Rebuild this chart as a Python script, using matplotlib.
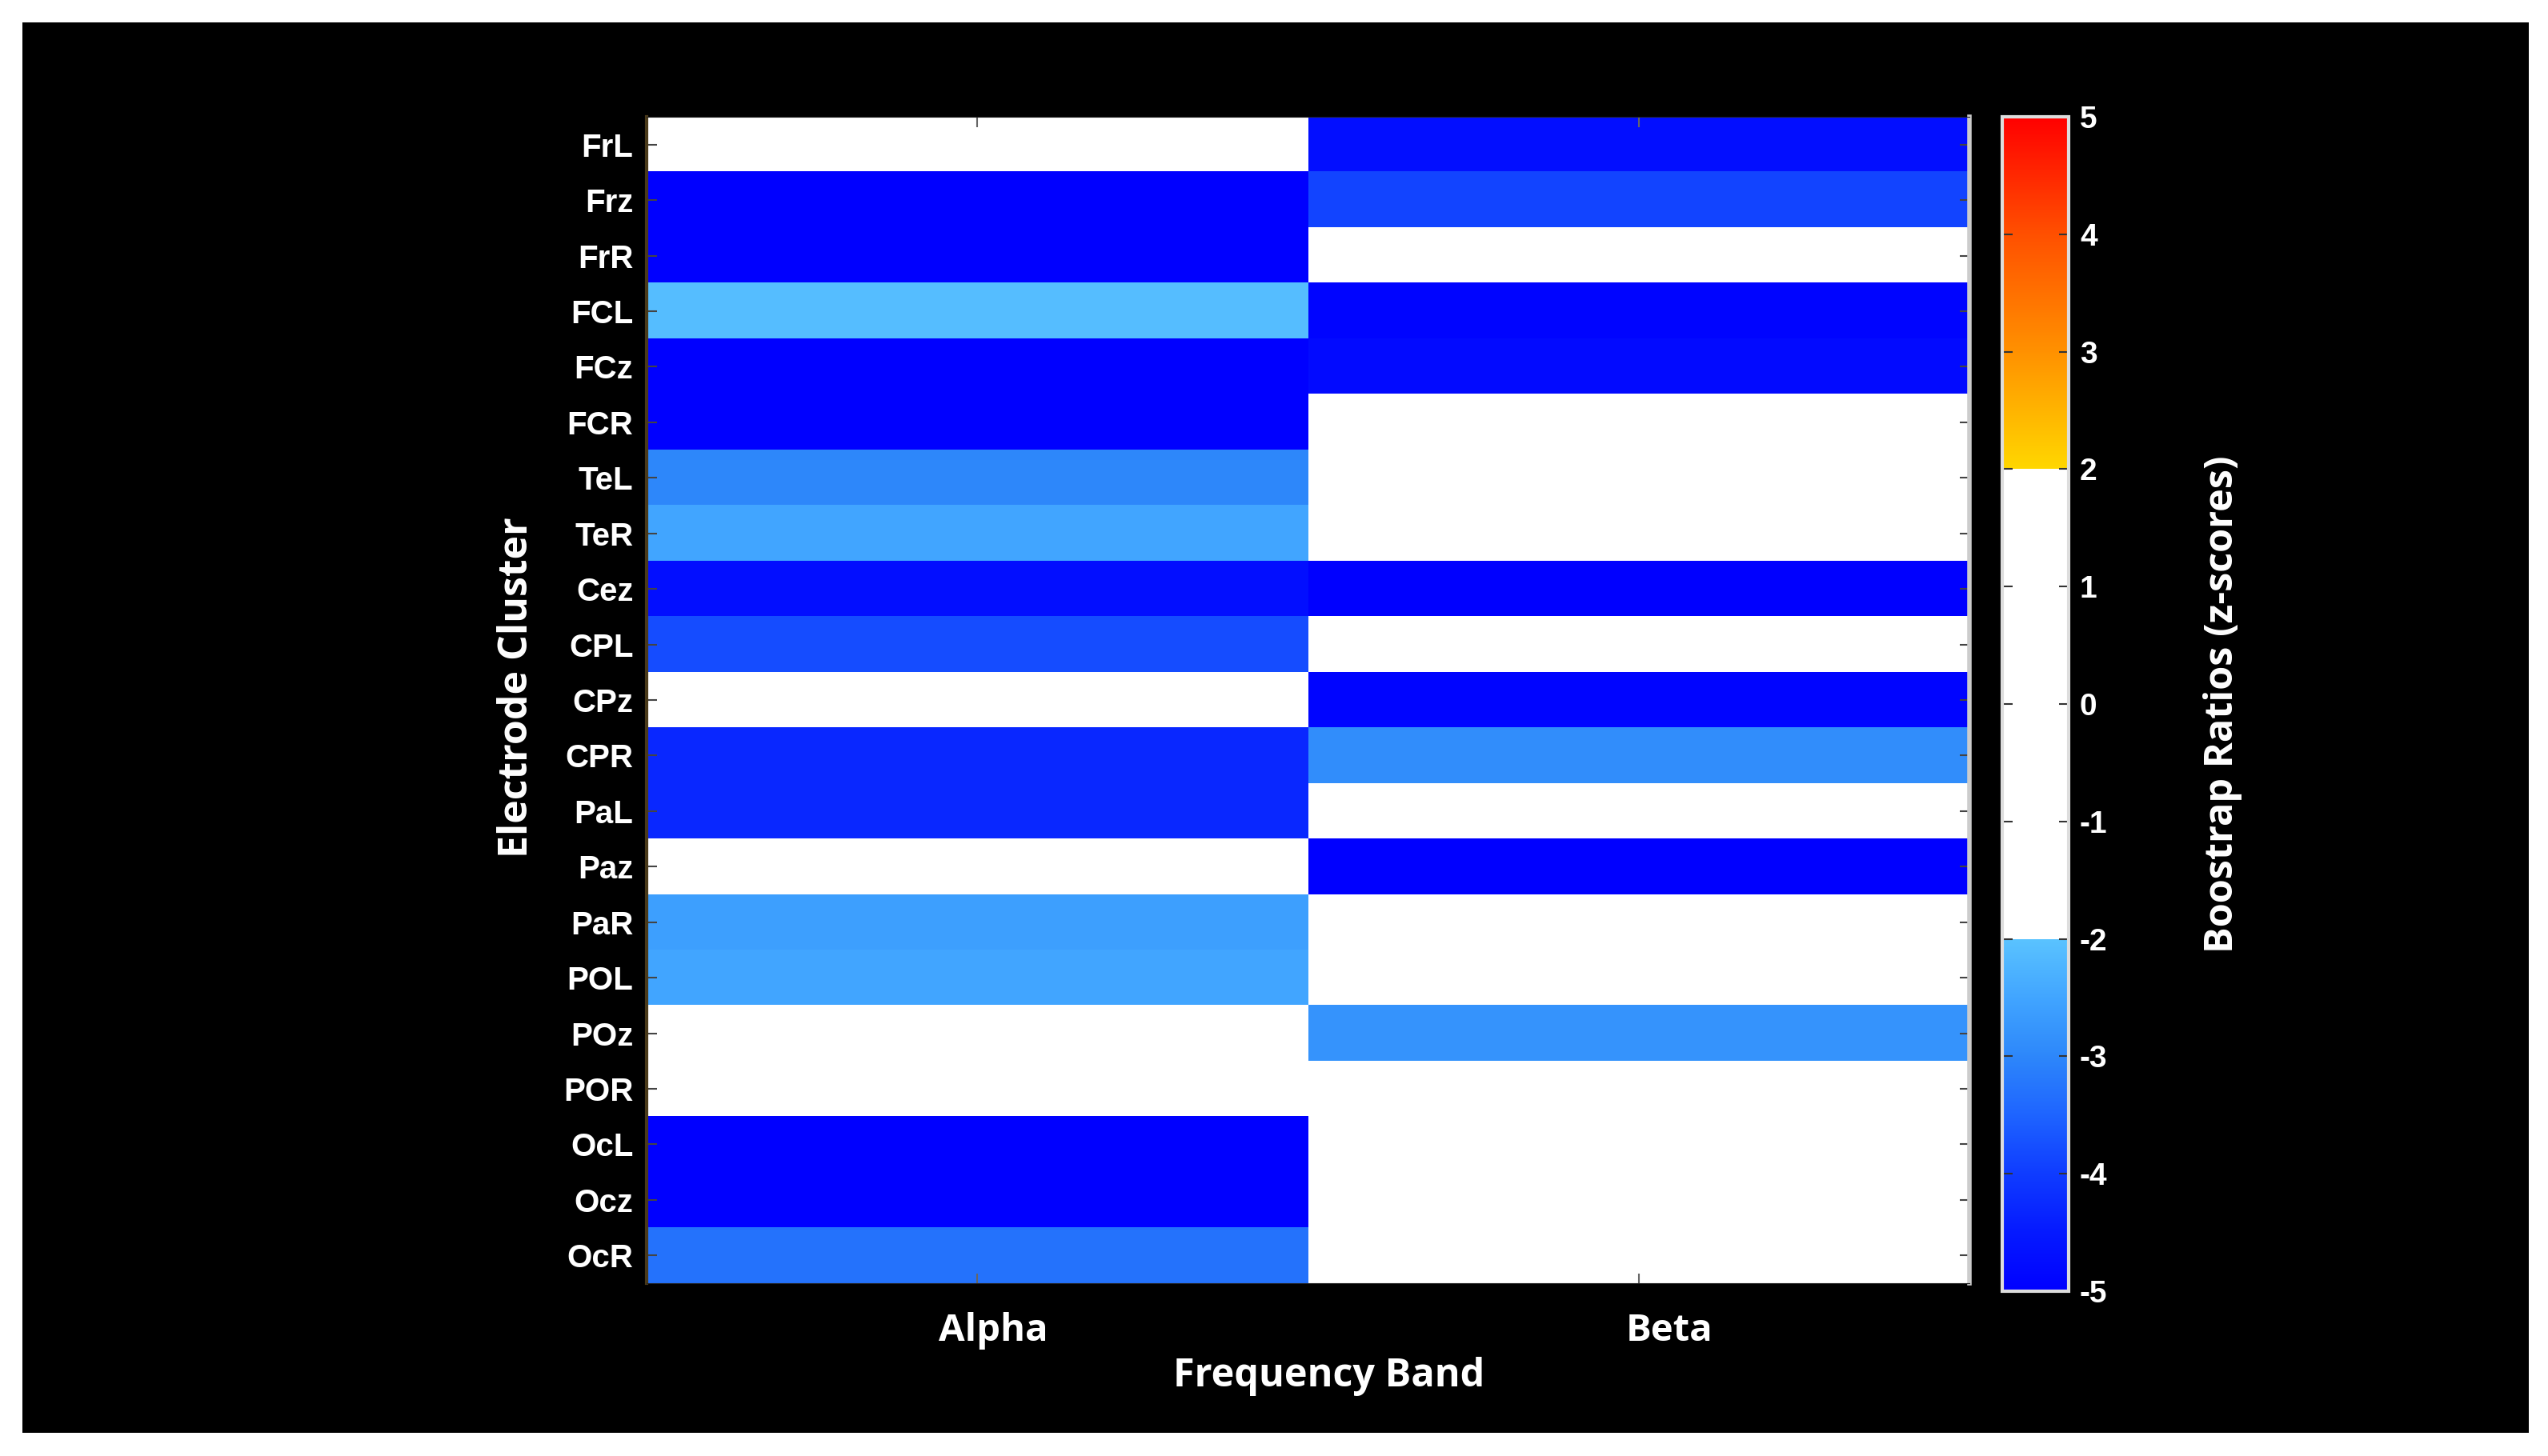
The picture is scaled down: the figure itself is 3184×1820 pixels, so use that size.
import matplotlib
matplotlib.use('Agg')
import matplotlib.pyplot as plt
import matplotlib.transforms as mtrans
import numpy as np
from matplotlib.colors import LinearSegmentedColormap

clusters = ['FrL', 'Frz', 'FrR', 'FCL', 'FCz', 'FCR', 'TeL', 'TeR', 'Cez', 'CPL', 'CPz',
            'CPR', 'PaL', 'Paz', 'PaR', 'POL', 'POz', 'POR', 'OcL', 'Ocz', 'OcR']
bands = ['Alpha', 'Beta']

alpha = [0, -5.0, -5.0, -2.1, -5.0, -5.0, -3.0, -2.5, -4.7, -3.8, 0,
         -4.3, -4.3, 0, -2.6, -2.5, 0, 0, -5.0, -5.0, -3.3]
beta = [-4.7, -3.9, 0, -4.9, -4.8, 0, 0, 0, -5.0, 0, -4.9,
        -2.9, 0, -5.0, 0, 0, -2.8, 0, 0, 0, 0]

cb_ticks = [5, 4, 3, 2, 1, 0, -1, -2, -3, -4, -5]

# colour map: blue ramp below -2, white in -2..2, yellow->red above 2
def c(r, g, b):
    return (r / 255, g / 255, b / 255)

anchors = [
    (0.00, c(0, 0, 255)),
    (0.05, c(5, 25, 255)),
    (0.10, c(15, 60, 255)),
    (0.15, c(30, 100, 255)),
    (0.20, c(45, 135, 250)),
    (0.25, c(65, 165, 255)),
    (0.30, c(90, 195, 255)),
    (0.30, c(255, 255, 255)),
    (0.70, c(255, 255, 255)),
    (0.70, c(255, 215, 0)),
    (0.80, c(255, 145, 0)),
    (0.90, c(255, 80, 0)),
    (1.00, c(255, 0, 0)),
]
cmap = LinearSegmentedColormap.from_list('bsr', anchors, N=1000)

fig = plt.figure(figsize=(31.84, 18.2), dpi=100, facecolor='white')
bg = fig.add_axes([0.0088, 0.016, 0.9837, 0.9686], zorder=-10)
bg.set_facecolor('black')
bg.set_xticks([])
bg.set_yticks([])
for s in bg.spines.values():
    s.set_visible(False)

ax = fig.add_axes([0.2538, 0.1187, 0.5192, 0.8011])
data = np.array([alpha, beta]).T
im = ax.imshow(data, cmap=cmap, vmin=-5, vmax=5, aspect='auto', interpolation='nearest')

ax.set_yticks(range(len(clusters)))
ax.set_yticklabels(clusters, fontsize=29, fontweight='bold', family='Liberation Sans', color='white')
ax.set_xticks(range(len(bands)))
ax.set_xticklabels(bands, fontsize=34, fontweight='bold', family='Open Sans', color='white')
ax.tick_params(axis='y', direction='in', length=9, width=1.5, color='#444444',
               left=True, right=True, pad=12)
ax.tick_params(axis='x', direction='in', length=9, width=1.5, color='#666666',
               top=True, bottom=True, pad=26)
# the band labels sit a little right of the tick marks
for lab, dx in zip(ax.get_xticklabels(), [0.2, 0.38]):
    lab.set_transform(lab.get_transform() + mtrans.ScaledTranslation(dx, 0, fig.dpi_scale_trans))
for s in ax.spines.values():
    s.set_color('#222222')
ax.spines['left'].set_color('#4a3a1a')
ax.spines['left'].set_linewidth(3)
ax.spines['right'].set_color('#cccccc')
ax.spines['right'].set_linewidth(4)

ax.set_ylabel('Electrode Cluster', fontsize=36, fontweight='bold', family='Open Sans',
              color='white')
ax.yaxis.set_label_coords(-0.083, 0.511)
ax.set_xlabel('Frequency Band', fontsize=35, fontweight='bold', family='Open Sans',
              color='white')
ax.xaxis.set_label_coords(0.516, -0.063)

cax = fig.add_axes([0.7858, 0.1132, 0.0261, 0.8066])
cb = fig.colorbar(im, cax=cax)
cb.set_ticks(cb_ticks)
cb.set_ticklabels([str(t) for t in cb_ticks])
cax.tick_params(direction='in', length=9, width=1.5, color='#333333', labelsize=28,
                labelcolor='white', left=True, right=True, pad=10)
for lab in cax.get_yticklabels():
    lab.set_family('Liberation Sans')
    lab.set_fontweight('bold')
cb.outline.set_edgecolor('#dddddd')
cb.outline.set_linewidth(3)
cb.set_label('Boostrap Ratios (z-scores)', fontsize=35, fontweight='bold',
             family='Open Sans', color='white', labelpad=86)

fig.savefig('out.png', dpi=100, facecolor=fig.get_facecolor())
